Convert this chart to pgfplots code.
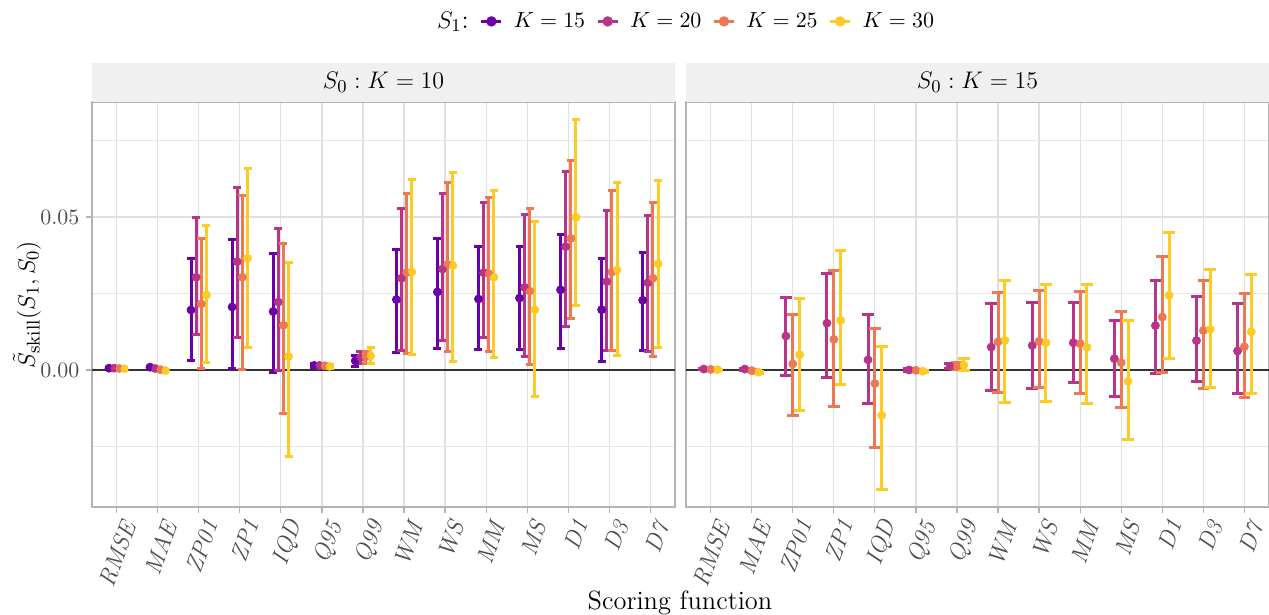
\documentclass[border=0pt]{standalone}
\usepackage{amsmath}
\usepackage{pgfplots}
\usepackage{pgfplotstable}
\pgfplotsset{compat=1.18}

\definecolor{c15}{HTML}{6A00A8}
\definecolor{c20}{HTML}{B8338A}
\definecolor{c25}{HTML}{EC7953}
\definecolor{c30}{HTML}{FCCB25}
\definecolor{stripgray}{HTML}{F0F0F0}
\definecolor{bordergray}{HTML}{B3B3B3}
\definecolor{gridgray}{HTML}{E0E0E0}
\definecolor{minorgray}{HTML}{E8E8E8}
\definecolor{labgray}{HTML}{4D4D4D}

\newcommand{\titlefont}{\fontsize{13.2}{15}\selectfont}
\newcommand{\tickfont}{\fontsize{10.7}{12}\selectfont}
\newcommand{\xtickfont}{\fontsize{12}{13}\selectfont}
\newcommand{\legfont}{\fontsize{10.5}{12}\selectfont}

% columns: i = category index, y = estimate, lo/hi = interval ends
\pgfplotstableread{
i y lo hi
0 0.0006 0.0004 0.0008
1 0.0009 0.0007 0.0011
2 0.0196 0.0030 0.0365
3 0.0206 0.0005 0.0427
4 0.0191 -0.0007 0.0381
5 0.0015 0.0008 0.0022
6 0.0030 0.0013 0.0048
7 0.0230 0.0058 0.0394
8 0.0255 0.0071 0.0431
9 0.0232 0.0066 0.0402
10 0.0235 0.0066 0.0403
11 0.0262 0.0071 0.0444
12 0.0197 0.0029 0.0363
13 0.0228 0.0065 0.0383
}\Lfifteen
\pgfplotstableread{
i y lo hi
0 0.0006 0.0004 0.0008
1 0.0005 0.0002 0.0008
2 0.0303 0.0115 0.0499
3 0.0354 0.0105 0.0597
4 0.0222 -0.0003 0.0462
5 0.0015 0.0008 0.0022
6 0.0040 0.0022 0.0060
7 0.0300 0.0063 0.0529
8 0.0330 0.0098 0.0577
9 0.0318 0.0107 0.0549
10 0.0270 0.0045 0.0507
11 0.0403 0.0143 0.0650
12 0.0289 0.0065 0.0522
13 0.0285 0.0062 0.0504
}\Ltwenty
\pgfplotstableread{
i y lo hi
0 0.0005 0.0003 0.0007
1 0.0001 -0.0002 0.0004
2 0.0216 0.0005 0.0431
3 0.0303 0.0002 0.0571
4 0.0146 -0.0142 0.0414
5 0.0014 0.0007 0.0021
6 0.0043 0.0021 0.0062
7 0.0318 0.0054 0.0577
8 0.0345 0.0062 0.0614
9 0.0315 0.0059 0.0564
10 0.0258 0.0019 0.0529
11 0.0430 0.0168 0.0685
12 0.0320 0.0065 0.0588
13 0.0300 0.0044 0.0548
}\Ltwentyfive
\pgfplotstableread{
i y lo hi
0 0.0004 0.0002 0.0006
1 -0.0002 -0.0005 0.0001
2 0.0245 0.0023 0.0472
3 0.0365 0.0072 0.0659
4 0.0044 -0.0282 0.0350
5 0.0012 0.0005 0.0019
6 0.0046 0.0020 0.0074
7 0.0321 0.0050 0.0623
8 0.0341 0.0029 0.0647
9 0.0303 0.0042 0.0588
10 0.0197 -0.0087 0.0484
11 0.0499 0.0211 0.0819
12 0.0327 0.0046 0.0612
13 0.0347 0.0075 0.0620
}\Lthirty
\pgfplotstableread{
i y lo hi
0 0.0003 0.0001 0.0005
1 0.0003 0.0000 0.0006
2 0.0111 -0.0017 0.0236
3 0.0153 -0.0026 0.0314
4 0.0033 -0.0109 0.0180
5 0.0000 -0.0004 0.0004
6 0.0012 0.0004 0.0020
7 0.0075 -0.0066 0.0216
8 0.0080 -0.0062 0.0219
9 0.0089 -0.0040 0.0219
10 0.0037 -0.0085 0.0162
11 0.0145 -0.0013 0.0293
12 0.0096 -0.0039 0.0240
13 0.0062 -0.0076 0.0216
}\Rtwenty
\pgfplotstableread{
i y lo hi
0 0.0002 0.0000 0.0004
1 -0.0002 -0.0005 0.0001
2 0.0020 -0.0148 0.0181
3 0.0100 -0.0118 0.0325
4 -0.0044 -0.0253 0.0136
5 -0.0001 -0.0005 0.0003
6 0.0013 0.0002 0.0025
7 0.0092 -0.0074 0.0254
8 0.0094 -0.0058 0.0259
9 0.0086 -0.0076 0.0258
10 0.0024 -0.0123 0.0191
11 0.0173 -0.0008 0.0371
12 0.0129 -0.0059 0.0294
13 0.0076 -0.0090 0.0249
}\Rtwentyfive
\pgfplotstableread{
i y lo hi
0 0.0001 -0.0001 0.0003
1 -0.0007 -0.0010 -0.0004
2 0.0050 -0.0132 0.0233
3 0.0162 -0.0048 0.0391
4 -0.0148 -0.0389 0.0077
5 -0.0004 -0.0008 0.0000
6 0.0016 -0.0002 0.0037
7 0.0097 -0.0105 0.0293
8 0.0089 -0.0104 0.0278
9 0.0074 -0.0109 0.0278
10 -0.0037 -0.0228 0.0162
11 0.0244 0.0037 0.0450
12 0.0133 -0.0057 0.0329
13 0.0125 -0.0078 0.0313
}\Rthirty

% #1 table, #2 offset, #3 colour, #4 cap half-width
\newcommand{\ebars}[4]{%
  \addplot[color=#3, only marks, mark=none, forget plot,
    error bars/.cd, y dir=both, y explicit,
    error bar style={line width=1.5pt, color=#3},
    error mark options={rotate=90, color=#3, mark size=#4, line width=1.5pt}]
  table[x expr=\thisrow{i}+#2, y=y,
        y error plus expr=\thisrow{hi}-\thisrow{y},
        y error minus expr=\thisrow{y}-\thisrow{lo}] {#1};
}
\newcommand{\pts}[3]{%
  \addplot[color=#3, only marks, mark=*, mark size=1.65pt, forget plot]
  table[x expr=\thisrow{i}+#2, y=y] {#1};
}

\pgfplotsset{
  panel/.style={
    scale only axis, width=291.5pt, height=202.5pt,
    xmin=-0.6, xmax=13.6, ymin=-0.04477, ymax=0.08758,
    xtick={0,...,13},
    xticklabels={\textit{RMSE},\textit{MAE},\textit{ZP01},\textit{ZP1},\textit{IQD},\textit{Q95},\textit{Q99},\textit{WM},\textit{WS},\textit{MM},\textit{MS},\textit{D1},\textit{D3},\textit{D7}},
    xticklabel style={rotate=70, anchor=north east, font=\xtickfont, text=labgray, inner sep=1.5pt, yshift=-1.5pt},
    yticklabel style={font=\tickfont, text=labgray},
    ytick={0,0.05}, minor ytick={-0.025,0.025,0.075},
    grid=both,
    major grid style={color=gridgray, line width=0.6pt},
    minor grid style={color=minorgray, line width=0.55pt},
    axis line style={color=bordergray, line width=0.6pt},
    tick style={color=bordergray, line width=0.6pt},
    major tick length=2.8pt, minor tick length=0pt,
    tick align=outside, tick pos=left,
  }
}

\begin{document}
\begin{tikzpicture}
\useasboundingbox (-46pt,-54pt) rectangle (588.5pt,253.5pt);

\begin{axis}[panel, name=L, at={(0pt,0pt)}, anchor=south west,
  yticklabels={$0.00$,$0.05$},
  legend columns=-1,
  legend style={at={(axis description cs:1.0086,1.199)}, anchor=center,
    draw=none, fill=none, font=\legfont, column sep=5.5pt,
    nodes={inner sep=0pt}},
  legend image code/.code={\draw[mark repeat=2,mark phase=2,#1] plot coordinates {(0pt,0pt) (5pt,0pt) (10pt,0pt)};},
]
\addlegendimage{empty legend}\addlegendentry{\titlefont $S_1$:}
\addlegendimage{color=c15, line width=1.5pt, mark=*, mark size=1.8pt, mark options={draw=none}}\addlegendentry{$K=15$}
\addlegendimage{color=c20, line width=1.5pt, mark=*, mark size=1.8pt, mark options={draw=none}}\addlegendentry{$K=20$}
\addlegendimage{color=c25, line width=1.5pt, mark=*, mark size=1.8pt, mark options={draw=none}}\addlegendentry{$K=25$}
\addlegendimage{color=c30, line width=1.5pt, mark=*, mark size=1.8pt, mark options={draw=none}}\addlegendentry{$K=30$}

\addplot[color=black!80, line width=0.6pt, forget plot] coordinates {(-0.6,0) (13.6,0)};
\ebars{\Lfifteen}{-0.1875}{c15}{2pt}
\ebars{\Ltwenty}{-0.0625}{c20}{2pt}
\ebars{\Ltwentyfive}{0.0625}{c25}{2pt}
\ebars{\Lthirty}{0.1875}{c30}{2pt}
\pts{\Lfifteen}{-0.1875}{c15}
\pts{\Ltwenty}{-0.0625}{c20}
\pts{\Ltwentyfive}{0.0625}{c25}
\pts{\Lthirty}{0.1875}{c30}
\end{axis}

\begin{axis}[panel, name=R, at={(297pt,0pt)}, anchor=south west,
  yticklabels={}, ytick style={draw=none}]
\addplot[color=black!80, line width=0.6pt, forget plot] coordinates {(-0.6,0) (13.6,0)};
\ebars{\Rtwenty}{-0.1667}{c20}{2.9pt}
\ebars{\Rtwentyfive}{0}{c25}{2.9pt}
\ebars{\Rthirty}{0.1667}{c30}{2.9pt}
\pts{\Rtwenty}{-0.1667}{c20}
\pts{\Rtwentyfive}{0}{c25}
\pts{\Rthirty}{0.1667}{c30}
\end{axis}

\fill[stripgray] (L.north west) rectangle ([yshift=19.5pt]L.north east);
\fill[stripgray] (R.north west) rectangle ([yshift=19.5pt]R.north east);
\node[font=\titlefont] at ([yshift=9.75pt]L.north) {$S_0 : K = 10$};
\node[font=\titlefont] at ([yshift=9.75pt]R.north) {$S_0 : K = 15$};

\node[rotate=90, font=\titlefont] at (-32.5pt,101.25pt) {$\tilde{S}_{\text{skill}}(S_1, S_0)$};
\node[font=\titlefont, anchor=base] at (294pt,-51.5pt) {Scoring function};
\end{tikzpicture}
\end{document}
